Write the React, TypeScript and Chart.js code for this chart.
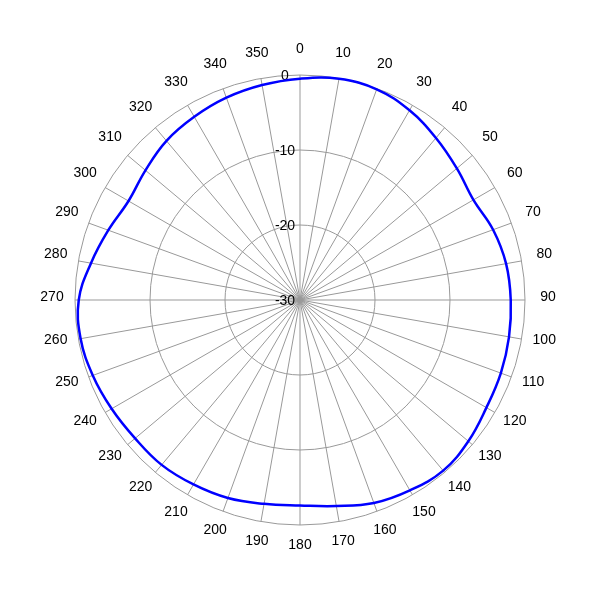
import { useEffect, useRef } from 'react';
import { Chart, registerables } from 'chart.js';

Chart.register(...registerables);

const angleLabels = [
  '0', '10', '20', '30', '40', '50', '60', '70', '80', '90', '100', '110',
  '120', '130', '140', '150', '160', '170', '180', '190', '200', '210', '220', '230',
  '240', '250', '260', '270', '280', '290', '300', '310', '320', '330', '340', '350',
];

const gainDb = [
  -0.5, -0.05, -0.1, -0.8, -1.8, -2.7, -3.3, -2.6, -2.1, -1.9, -1.7, -1.5,
  -1.3, -0.7, -0.3, -0.7, -1.2, -2.1, -2.6, -2.4, -1.9, -1.6, -1.3, -1.3,
  -1.0, -0.6, -0.3, -0.5, -1.7, -2.8, -3.6, -3.1, -2.3, -1.8, -1.3, -0.9,
];

const radialTicks = [-30, -20, -10, 0];

const FONT = '14px "Liberation Sans", Arial, Helvetica, sans-serif';

const labelPlugin = {
  id: 'polarLabels',
  beforeDatasetsDraw(chart: any) {
    const scale = chart.scales.r;
    const ctx = chart.ctx;
    ctx.save();
    ctx.font = FONT;
    ctx.fillStyle = '#000';
    ctx.textAlign = 'center';
    ctx.textBaseline = 'middle';
    angleLabels.forEach((lab, i) => {
      const p = scale.getPointPosition(i, scale.drawingArea + 23);
      ctx.fillText(lab, p.x, p.y - 3);
    });
    radialTicks.forEach((v) => {
      const d = scale.getDistanceFromCenterForValue(v);
      ctx.fillText(String(v), scale.xCenter - 15, scale.yCenter - d + 1);
    });
    ctx.restore();
  },
};

export default function App() {
  const ref = useRef<HTMLCanvasElement | null>(null);

  useEffect(() => {
    if (!ref.current) return;
    const chart = new Chart(ref.current, {
      type: 'radar',
      data: {
        labels: angleLabels,
        datasets: [
          {
            data: gainDb,
            borderColor: '#0000ff',
            borderWidth: 2.5,
            backgroundColor: 'rgba(0,0,0,0)',
            fill: false,
            pointRadius: 0,
            pointHoverRadius: 0,
            tension: 0.4,
          },
        ],
      },
      options: {
        responsive: false,
        animation: false,
        devicePixelRatio: 1,
        layout: { padding: 75 },
        plugins: {
          legend: { display: false },
          tooltip: { enabled: false },
        },
        scales: {
          r: {
            min: -30,
            max: 0,
            startAngle: 0,
            ticks: { display: false, stepSize: 10 },
            pointLabels: { display: false },
            grid: { circular: true, color: '#999999', lineWidth: 1 },
            angleLines: { color: '#999999', lineWidth: 1 },
          },
        },
      },
      plugins: [labelPlugin],
    });
    return () => chart.destroy();
  }, []);

  return (
    <div style={{ position: 'fixed', left: 0, top: 0, width: 600, height: 600, background: '#fff' }}>
      <canvas ref={ref} width={600} height={600} />
    </div>
  );
}
